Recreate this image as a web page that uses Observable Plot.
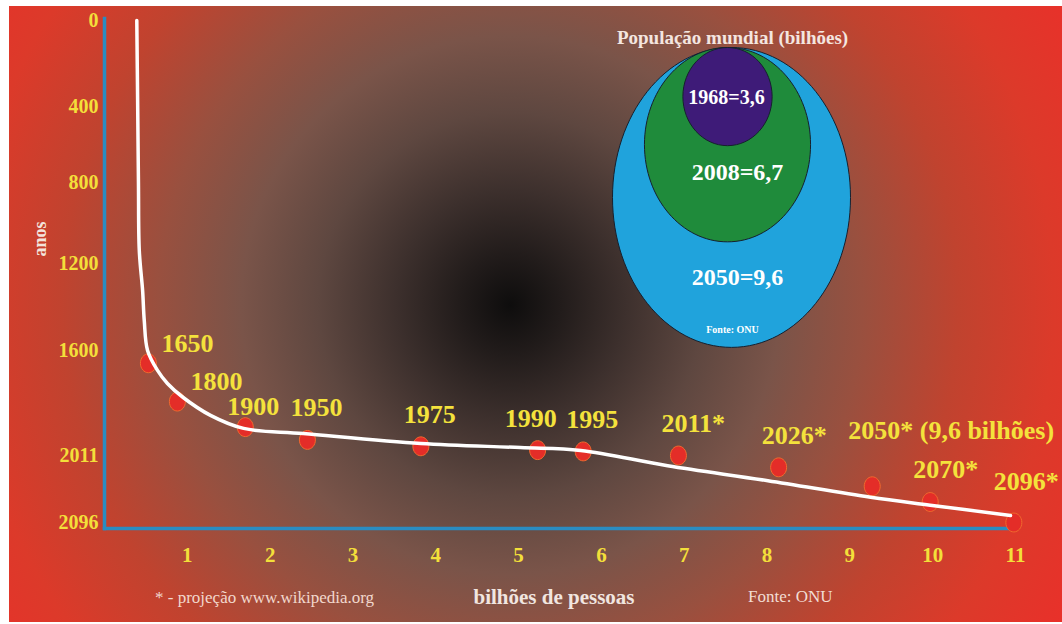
<!DOCTYPE html>
<html>
<head>
<meta charset="utf-8">
<script src="https://cdn.jsdelivr.net/npm/d3@7"></script>
<script src="https://cdn.jsdelivr.net/npm/@observablehq/plot@0.6"></script>
<style>
  body { margin: 0; background: #ffffff; }
  #wrap { position: relative; width: 1062px; height: 624px; overflow: hidden; font-family: "Liberation Serif", "Times New Roman", serif; }
  #bg { position: absolute; left: 9px; top: 6px; width: 1053px; height: 616px;
        background: radial-gradient(circle 640px at 47.6% 48.5%, #0e0d0d 0%, #221c1b 8%, #3d302d 18%, #5e4740 30%, #7a5449 42%, #99503f 55%, #c0432f 70%, #dc3a2a 85%, #e9302a 100%); }
  #main, #inset { position: absolute; top: 0; }
  #main { left: 0; }
  #inset { left: 598px; }
  svg { overflow: visible; }
  .cap { position: absolute; white-space: nowrap; font-family: "Liberation Serif", serif; line-height: 1.2; }
  #main [aria-label="y-axis tick label"], #main [aria-label="x-axis tick label"] { font-weight: bold; fill: #f3df3a; }
</style>
</head>
<body>
<div id="wrap">
  <div id="bg"></div>
  <div id="main"></div>
  <div id="inset"></div>
  <div class="cap" style="left:155px; top:588px; font-size:17px; color:#f2d8cd;">* - projeção www.wikipedia.org</div>
  <div class="cap" style="left:554px; top:585px; font-size:21px; font-weight:bold; color:#f1e6e0; transform:translateX(-50%);">bilhões de pessoas</div>
  <div class="cap" style="left:748px; top:587px; font-size:17px; color:#f2ddd4;">Fonte: ONU</div>
</div>
<script>
// ---- data ----
const pointYears  = [1650, 1800, 1900, 1950, 1975, 1990, 1995, 2011, 2026, 2050, 2070, 2096];
const pointPop    = [0.53, 0.88, 1.70, 2.45, 3.82, 5.23, 5.78, 6.93, 8.14, 9.27, 9.97, 10.98];
const pointLabels = ["1650", "1800", "1900", "1950", "1975", "1990", "1995", "2011*", "2026*", "2050* (9,6 bilhões)", "2070*", "2096*"];

const trendYears = [0, 372, 805, 1136, 1324, 1462, 1600, 1678, 1729, 1784, 1854, 1905, 1925, 1964, 1980, 1991, 2024, 2043, 2064, 2074, 2087];
const trendPop   = [0.39, 0.40, 0.41, 0.42, 0.46, 0.48, 0.52, 0.64, 0.76, 0.95, 1.28, 1.68, 2.40, 3.82, 5.02, 5.75, 6.80, 8.01, 9.25, 9.97, 10.94];

const yTicks = [0, 400, 800, 1200, 1600, 2011, 2096];
const xTicks = [1, 2, 3, 4, 5, 6, 7, 8, 9, 10, 11];

const insetYears  = [1968, 2008, 2050];
const insetPop    = [3.6, 6.7, 9.6];
const insetLabels = ["1968=3,6", "2008=6,7", "2050=9,6"];

// ---- tables ----
const pts = pointYears.map((year, i) => ({year, pop: pointPop[i], label: pointLabels[i]}));
const trend = trendYears.map((year, i) => ({year, pop: trendPop[i]}));
const inset = insetYears.map((year, i) => ({year, value: insetPop[i], label: insetLabels[i]}));

const yellow = "#f4e23c";
const serif = "Liberation Serif";

// ellipse symbol (vertical stretch k); if top, the anchor is the ellipse's top point
function ellipseSymbol(k, top) {
  return {
    draw(ctx, size) {
      const rx = Math.sqrt(size / Math.PI), ry = rx * k, cy = top ? ry : 0, c = 0.5523;
      ctx.moveTo(rx, cy);
      ctx.bezierCurveTo(rx, cy + c * ry, c * rx, cy + ry, 0, cy + ry);
      ctx.bezierCurveTo(-c * rx, cy + ry, -rx, cy + c * ry, -rx, cy);
      ctx.bezierCurveTo(-rx, cy - c * ry, -c * rx, cy - ry, 0, cy - ry);
      ctx.bezierCurveTo(c * rx, cy - ry, rx, cy - c * ry, rx, cy);
      ctx.closePath();
    }
  };
}

const lbl = (f, dx, dy) => Plot.text(pts.filter(f), {
  x: "pop", y: "year", text: "label", textAnchor: "start", dx, dy,
  fontSize: 26, fontWeight: "bold", fill: yellow, fontFamily: serif
});

const main = Plot.plot({
  width: 1062,
  height: 624,
  marginTop: 18,
  marginLeft: 104,
  marginRight: 47,
  marginBottom: 96,
  style: {background: "transparent", fontFamily: serif, overflow: "visible"},
  x: {domain: [0, 11]},
  y: {type: "linear", domain: yTicks, range: [20, 106, 182, 263, 350, 455, 522]},
  marks: [
    Plot.frame({anchor: "left", stroke: "#2a8cc2", strokeWidth: 3.5}),
    Plot.frame({anchor: "bottom", stroke: "#2a8cc2", strokeWidth: 3.5}),
    Plot.axisY({ticks: yTicks, tickSize: 0, tickPadding: 6, tickFormat: d => String(d), label: null,
                fontSize: 20, fontWeight: "bold", fill: "#f3df3a", fontFamily: serif}),
    Plot.axisX({ticks: xTicks, tickSize: 0, tickPadding: 19, tickFormat: d => String(d), label: null,
                fontSize: 21, fontWeight: "bold", fill: "#f3df3a", fontFamily: serif}),
    Plot.text(["anos"], {frameAnchor: "left", lineAnchor: "middle", dx: -64, dy: -17, rotate: -90, text: d => d,
                fontSize: 18, fontWeight: "bold", fill: "#f3e4dc", fontFamily: serif}),
    Plot.dot(pts, {x: "pop", y: "year", r: 8, symbol: ellipseSymbol(1.18, false),
                fill: "#e42d28", stroke: "#f06a2e", strokeWidth: 1}),
    Plot.line(trend, {x: "pop", y: "year", curve: "catmull-rom", stroke: "#ffffff", strokeWidth: 3.5}),
    lbl(d => d.year < 1850, 13, -20),
    lbl(d => d.year === 1900, -18, -20),
    lbl(d => d.year === 1990, -33, -31),
    lbl(d => d.year === 2050, -24, -56),
    lbl(d => d.year === 2096, -20, -41),
    lbl(d => [1950, 1975, 1995, 2011, 2026, 2070].includes(d.year), -17, -32)
  ]
});
document.getElementById("main").appendChild(main);

const insetText = (data, dx, dy, size, fill, text) => Plot.text(data, {
  frameAnchor: "top", lineAnchor: "middle", dx, dy, text,
  fontSize: size, fontWeight: "bold", fill, fontFamily: serif
});

const ins = Plot.plot({
  width: 260,
  height: 360,
  marginTop: 47,
  marginLeft: 0,
  marginRight: 0,
  marginBottom: 0,
  style: {background: "transparent", fontFamily: serif, overflow: "visible"},
  r: {type: "linear", domain: [0, 9.6], range: [0, 119]},
  marks: [
    Plot.dot(inset.filter(d => d.year === 2050), {r: "value", frameAnchor: "top", dx: 3,
      symbol: ellipseSymbol(1.26, true), fill: "#20a3dc", stroke: "#16202e", strokeWidth: 1}),
    Plot.dot(inset.filter(d => d.year === 2008), {r: "value", frameAnchor: "top", dx: -1,
      symbol: ellipseSymbol(1.17, true), fill: "#1f8b3b", stroke: "#16202e", strokeWidth: 1}),
    Plot.dot(inset.filter(d => d.year === 1968), {r: "value", frameAnchor: "top", dx: -1,
      symbol: ellipseSymbol(1.10, true), fill: "#3e1b78", stroke: "#16202e", strokeWidth: 1}),
    insetText(["População mundial (bilhões)"], 4, -10, 19, "#f4e6e0", d => d),
    insetText(inset.filter(d => d.year === 1968), -2, 50, 20, "#ffffff", "label"),
    insetText(inset.filter(d => d.year === 2008), 9, 125, 24, "#ffffff", "label"),
    insetText(inset.filter(d => d.year === 2050), 9, 230, 24, "#ffffff", "label"),
    insetText(["Fonte: ONU"], 4, 282, 10, "#ffffff", d => d)
  ]
});
document.getElementById("inset").appendChild(ins);
</script>
</body>
</html>
